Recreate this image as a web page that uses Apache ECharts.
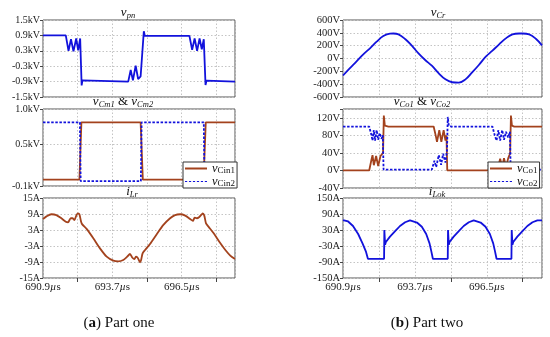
<!DOCTYPE html>
<html><head><meta charset="utf-8">
<script src="https://cdn.jsdelivr.net/npm/echarts@6/dist/echarts.min.js"></script>
<style>html,body{margin:0;padding:0;background:#fff}#c{width:550px;height:337px}</style>
</head><body><div id="c"></div>
<script>
// ---- time axis (µs) ----
const tStart = 690.9, tEnd = 698.65, tStep = 2.8;

// ---- Part one ----
const vpn = [[690.9,0.9],[691.82,0.9],[691.93,0.3],[692.03,0.75],[692.13,0.28],[692.24,0.78],[692.32,0.32],[692.40,0.78],[692.46,-1.05],[692.49,-0.85],[692.53,-0.9],
  [694.34,-0.9],[694.44,-0.45],[694.53,-0.85],[694.64,-0.28],[694.74,-0.8],[694.84,-0.7],[694.97,1.06],[695.01,0.88],[695.05,0.9],
  [696.81,0.88],[696.92,0.34],[697.02,0.78],[697.12,0.3],[697.22,0.78],[697.31,0.36],[697.39,0.75],[697.46,-1.03],[697.50,-0.86],[697.54,-0.9],[698.65,-0.9]];
const vCin1 = [[690.9,-0.01],[692.37,-0.01],[692.45,0.81],[694.84,0.81],[694.93,-0.01],[697.38,-0.01],[697.47,0.81],[698.65,0.81]];
const vCin2 = [[690.9,0.81],[692.39,0.81],[692.42,-0.03],[694.85,-0.03],[694.88,0.81],[697.39,0.81],[697.42,-0.03],[698.65,-0.03]];
const iLr = [[690.90,7.1],[691.04,8.1],[691.24,8.9],[691.44,8.6],[691.64,7.4],[691.82,6.1],[691.91,5.9],[692.02,7.4],[692.09,7.4],[692.17,6.75],[692.25,8.6],[692.32,9.25],[692.37,8.9],[692.43,6.4],[692.47,5.3],
  [692.66,3.4],[692.93,-0.1],[693.20,-3.9],[693.47,-7],[693.74,-8.5],[693.94,-8.75],[694.14,-8.25],[694.30,-7],[694.41,-6],[694.51,-7.4],[694.59,-7.9],[694.65,-7],[694.72,-7.4],[694.78,-8.5],[694.82,-9.1],[694.86,-8.25],[694.92,-5.75],
  [695.02,-4.5],[695.22,-2.25],[695.49,1.4],[695.76,4.9],[696.03,7.4],[696.23,8.6],[696.44,8.9],[696.64,8.4],[696.84,7.1],[696.95,6.4],[697.02,7.6],[697.11,7.4],[697.21,7.9],[697.31,8.9],[697.35,9.25],[697.41,8.4],[697.48,5.5],
  [697.58,4.25],[697.79,1.75],[698.06,-2],[698.26,-4.5],[698.46,-6.6],[698.65,-7.9]];

// ---- Part two ----
const vCr = [[690.9,-265],[691.16,-153],[691.42,-49],[691.69,65],[691.95,158],[692.21,262],[692.47,350],[692.73,388],[692.86,390],[693.06,377],[693.32,304],[693.58,200],[693.84,80],[694.10,-23],[694.36,-112],[694.63,-231],[694.89,-325],[695.15,-370],[695.41,-377],[695.67,-325],[695.93,-216],[696.19,-101],[696.46,29],[696.72,122],[696.98,221],[697.24,314],[697.50,377],[697.76,390],[697.89,390],[698.15,377],[698.42,304],[698.65,205]];
const vCo1 = [[690.9,0],[691.92,0],[692.01,25],[692.05,35],[692.10,12],[692.14,8],[692.19,33],[692.23,35],[692.27,10],[692.31,8],[692.36,33],[692.40,30],[692.46,40],[692.49,125],[692.53,102],[692.67,100],
  [694.43,100],[694.52,77],[694.56,65],[694.65,92],[694.73,65],[694.82,92],[694.89,68],[694.93,80],[694.96,0],
  [696.91,0],[697.02,27],[697.10,8],[697.17,28],[697.25,8],[697.33,27],[697.38,35],[697.41,40],[697.44,125],[697.48,102],[697.57,100],[698.65,100]];
const vCo2 = [[690.9,100],[691.92,100],[692.01,80],[692.05,68],[692.10,92],[692.15,68],[692.21,92],[692.27,70],[692.33,85],[692.40,72],[692.45,80],[692.48,2],
  [694.36,2],[694.46,22],[694.53,8],[694.63,35],[694.72,13],[694.80,38],[694.89,18],[694.95,45],[694.98,122],[695.02,102],[695.12,100],
  [696.72,100],[696.81,80],[696.88,68],[696.95,92],[697.02,68],[697.10,92],[697.17,70],[697.25,88],[697.33,75],[697.40,88],[697.43,2],[698.65,2]];
const iLok = [[690.90,67],[691.10,62],[691.29,45],[691.49,15],[691.66,-20],[691.79,-50],[691.87,-78],[692.50,-78],[692.51,30],[692.54,-25],[692.57,-15],[692.60,-8],[692.73,5],[692.93,26],[693.12,45],[693.32,59],[693.51,66],[693.58,67],[693.78,58],[693.97,42],[694.14,15],[694.27,-20],[694.34,-50],[694.40,-78],
  [694.98,-78],[694.99,30],[695.02,-25],[695.05,-15],[695.08,-8],[695.21,5],[695.41,26],[695.60,45],[695.80,59],[695.99,66],[696.06,67],[696.26,58],[696.45,42],[696.62,15],[696.75,-20],[696.82,-50],[696.88,-78],
  [697.46,-78],[697.47,30],[697.50,-25],[697.53,-15],[697.56,-8],[697.69,5],[697.89,26],[698.08,45],[698.28,59],[698.47,66],[698.54,67],[698.65,66]];

// ---- y axes ----
const yRanges = [
  {min:-1.5, max:1.5, interval:0.6, unit:'kV', dec:1},
  {min:-0.1, max:1.0, interval:0.6, unit:'kV', dec:1},
  {min:-15, max:15, interval:6, unit:'A', dec:0},
  {min:-600, max:600, interval:200, unit:'V', dec:0},
  {min:-40, max:140, interval:40, unit:'V', dec:0, hide:[140]},
  {min:-150, max:150, interval:60, unit:'A', dec:0}
];

const BLUE = '#1212dc', BROWN = '#a3421d', SERIF = 'Liberation Serif';
const grids = [
  {left:43, top:20, width:192, height:77},
  {left:43, top:109, width:192, height:77},
  {left:43, top:198, width:192, height:80},
  {left:343, top:20, width:199, height:77},
  {left:343, top:109, width:199, height:79},
  {left:343, top:198, width:199, height:80}
].map(g => Object.assign(g, {show:true, borderColor:'#555', borderWidth:1}));

const dotted = {show:true, lineStyle:{color:'#c4c4c4', type:[1.5,2], width:1}};
const xAxes = grids.map((g,i) => ({
  type:'value', gridIndex:i, min:tStart, max:tEnd, interval:tStep, position:'bottom',
  axisLine:{show:false, onZero:false}, axisTick:{show:false},
  minorTick:{show:(i%3===2), splitNumber:2, length:4, lineStyle:{color:'#444'}},
  splitLine:dotted, minorSplitLine:dotted,
  axisLabel:{show:(i%3===2), margin:4, showMaxLabel:false,
    formatter:v => { const k=(v-tStart)/tStep; if (Math.abs(k-Math.round(k))>0.01) return ''; return '{n|'+v.toFixed(1)+'}{u|µ}{n|s}'; },
    rich:{n:{fontFamily:SERIF, fontSize:11, color:'#222'}, u:{fontFamily:SERIF, fontSize:11, fontStyle:'italic', color:'#222'}}}
}));
const yAxes = yRanges.map((r,i) => ({
  type:'value', gridIndex:i, min:r.min, max:r.max, interval:r.interval, position:'left',
  axisLine:{show:false, onZero:false}, axisTick:{show:true, length:3, lineStyle:{color:'#444'}},
  splitLine:dotted,
  axisLabel:{margin:3, fontFamily:SERIF, fontSize:(i<3?10:10.5), color:'#222',
    formatter:v => (r.hide && r.hide.indexOf(v)>=0) ? '' : v.toFixed(r.dec)+r.unit}
}));

function line(name, data, gi, color, dashed, smooth) {
  return {name, type:'line', data, xAxisIndex:gi, yAxisIndex:gi, symbol:'none', showSymbol:false, smooth:smooth||false,
    lineStyle:{color, width:1.8, type: dashed ? [2.5,1.6] : 'solid'}, itemStyle:{color}, z: dashed?3:2};
}
const series = [
  line('vpn', vpn, 0, BLUE),
  line('vCin1', vCin1, 1, BROWN),
  line('vCin2', vCin2, 1, BLUE, true),
  line('iLr', iLr, 2, BROWN, false, 0.25),
  line('vCr', vCr, 3, BLUE, false, 0.4),
  line('vCo1', vCo1, 4, BROWN),
  line('vCo2', vCo2, 4, BLUE, true),
  line('iLok', iLok, 5, BLUE)
];

const SOLID_ICON = 'rect';
const DASH_ICON = 'path://M0,0h2.5v1h-2.5zM4.5,0h2.5v1h-2.5zM9,0h2.5v1h-2.5zM13.5,0h2.5v1h-2.5zM18,0h2.5v1h-2.5zM22.5,0h2.5v1h-2.5z';
const legRich = {v:{fontFamily:SERIF, fontSize:12.5, fontStyle:'italic', color:'#111', lineHeight:10},
                 s:{fontFamily:SERIF, fontSize:9, color:'#111', lineHeight:10, padding:[4,0,0,0]}};
const legendBase = {orient:'vertical', itemGap:0, itemWidth:22, itemHeight:2, backgroundColor:'#fff', borderColor:'#333', borderWidth:1, padding:[0,2,0,2],
  formatter:n => '{v|v}{s|'+n.slice(1)+'}', textStyle:{rich:legRich}};
const legend = [
  Object.assign({}, legendBase, {data:[{name:'vCin1', icon:SOLID_ICON, itemStyle:{color:BROWN}},{name:'vCin2', icon:DASH_ICON, itemStyle:{color:BLUE}}], left:183, top:162}),
  Object.assign({}, legendBase, {data:[{name:'vCo1', icon:SOLID_ICON, itemStyle:{color:BROWN}},{name:'vCo2', icon:DASH_ICON, itemStyle:{color:BLUE}}], left:488, top:162})
];

function title(x, y, parts) {
  return {type:'text', x, y, style:{text:parts, align:'center', verticalAlign:'middle',
    rich:{v:{fontFamily:SERIF, fontSize:13, fontStyle:'italic', fill:'#111', lineHeight:14},
          s:{fontFamily:SERIF, fontSize:8.5, fontStyle:'italic', fill:'#111', lineHeight:10, padding:[6,0,0,0]},
          a:{fontFamily:SERIF, fontSize:13, fill:'#111', lineHeight:14}}}};
}
function caption(x, y, letter, rest) {
  return {type:'text', x, y, style:{text:'{p|(}{b|'+letter+'}{p|) '+rest+'}', align:'center', verticalAlign:'middle',
    rich:{p:{fontFamily:SERIF, fontSize:15, fill:'#111'}, b:{fontFamily:SERIF, fontSize:15, fontWeight:'bold', fill:'#111'}}}};
}
const graphic = [
  title(128, 13, '{v|v}{s|pn}'),
  title(123, 102, '{v|v}{s|Cm1}{a| & }{v|v}{s|Cm2}'),
  title(132, 192, '{v|i}{s|Lr}'),
  title(438, 13, '{v|v}{s|Cr}'),
  title(422, 102, '{v|v}{s|Co1}{a| & }{v|v}{s|Co2}'),
  title(437, 192, '{v|i}{s|Lok}'),
  caption(119, 323, 'a', 'Part one'),
  caption(427, 323, 'b', 'Part two')
];

const chart = echarts.init(document.getElementById('c'), null, {renderer:'canvas'});
chart.setOption({animation:false, backgroundColor:'#fff', grid:grids, xAxis:xAxes, yAxis:yAxes, series, legend, graphic});
</script></body></html>
